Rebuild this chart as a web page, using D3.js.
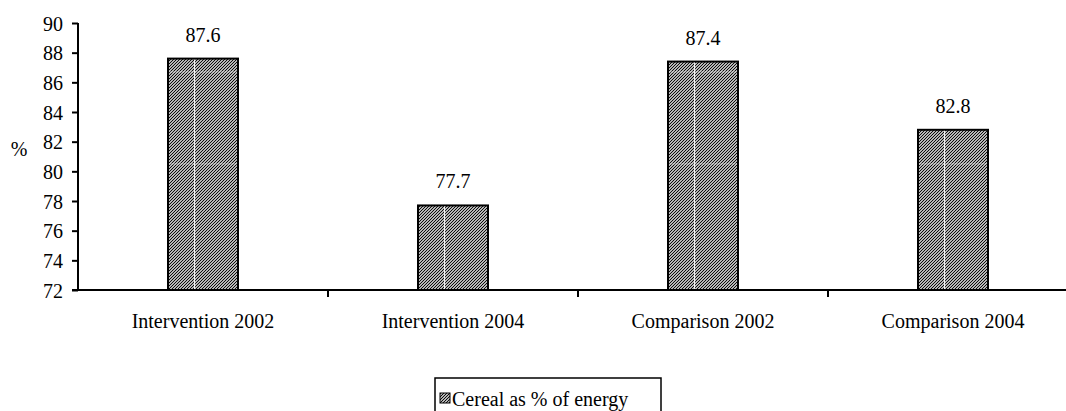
<!doctype html>
<html>
<head>
<meta charset="utf-8">
<title>Cereal as % of energy</title>
<script src="https://d3js.org/d3.v7.min.js"></script>
<style>
  body { margin: 0; background: #fff; }
</style>
</head>
<body>
<svg id="chart" width="1066" height="411"></svg>
<script>
// chart data
const categories = ["Intervention 2002", "Intervention 2004", "Comparison 2002", "Comparison 2004"];
const values = [87.6, 77.7, 87.4, 82.8];
const yTicks = [72, 74, 76, 78, 80, 82, 84, 86, 88, 90];
const seriesName = "Cereal as % of energy";

const FONT = "'Liberation Serif', 'Times New Roman', Times, serif";

const svg = d3.select("#chart");
const margin = {top: 23, left: 78, bottom: 121},
      width = 1000,
      height = 411 - margin.top - margin.bottom;

// hatch pattern for the bars
const defs = svg.append("defs");
defs.append("pattern")
    .attr("id", "hatch")
    .attr("patternUnits", "userSpaceOnUse")
    .attr("width", 3).attr("height", 3)
  .append("path")
    .attr("d", "M-1,1 l2,-2 M0,3 l3,-3 M2,4 l2,-2")
    .attr("stroke", "#000")
    .attr("stroke-width", 1.1);

const g = svg.append("g")
    .attr("transform", `translate(${margin.left},${margin.top})`);

const x = d3.scaleBand()
    .domain(categories)
    .range([0, width])
    .paddingInner(0.72)
    .paddingOuter(0.36);

const y = d3.scaleLinear()
    .domain([72, 90])
    .range([height, 0]);

// bars
const bars = g.selectAll(".bar")
  .data(values)
  .join("g")
    .attr("class", "bar");

bars.append("rect")
    .attr("x", (d, i) => x(categories[i]))
    .attr("y", d => y(d))
    .attr("width", x.bandwidth())
    .attr("height", d => height - y(d))
    .attr("fill", "url(#hatch)")
    .attr("stroke", "#000")
    .attr("stroke-width", 2);

// thin white seams in the hatch, like the original
bars.append("line")
    .attr("x1", (d, i) => x(categories[i]) + x.bandwidth() * 0.38)
    .attr("x2", (d, i) => x(categories[i]) + x.bandwidth() * 0.38)
    .attr("y1", d => y(d) + 1)
    .attr("y2", height - 1)
    .attr("stroke", "#fff")
    .attr("stroke-width", 1);

const seams = [86.7, 80.5];
bars.each(function(d, i) {
  d3.select(this).selectAll(".seam")
    .data(seams.filter(s => s < d - 0.2))
    .join("line")
      .attr("class", "seam")
      .attr("x1", x(categories[i]) + 1)
      .attr("x2", x(categories[i]) + x.bandwidth() - 1)
      .attr("y1", s => y(s))
      .attr("y2", s => y(s))
      .attr("stroke", "#fff")
      .attr("stroke-opacity", 0.45)
      .attr("stroke-width", 1);
});

// value labels
bars.append("text")
    .attr("x", (d, i) => x(categories[i]) + x.bandwidth() / 2)
    .attr("y", d => y(d) - 17)
    .attr("text-anchor", "middle")
    .text(d => d.toFixed(1));

// y axis
const yAxis = g.append("g")
    .call(d3.axisLeft(y).tickValues(yTicks).tickSize(6).tickPadding(9));
yAxis.attr("font-family", null).attr("font-size", null);
yAxis.selectAll("text").attr("dy", "0.35em");
yAxis.select(".domain").attr("d", `M0,${height}V0`).attr("stroke-width", 2);
yAxis.selectAll(".tick line").attr("stroke-width", 2);

// x axis: line with ticks at band boundaries
g.append("line")
    .attr("x1", -6).attr("x2", width)
    .attr("y1", height).attr("y2", height)
    .attr("stroke", "#000").attr("stroke-width", 2);

const step = x.step();
g.selectAll(".xtick")
  .data(categories.slice(1))
  .join("line")
    .attr("class", "xtick")
    .attr("x1", d => x(d) - x.paddingInner() * step / 2)
    .attr("x2", d => x(d) - x.paddingInner() * step / 2)
    .attr("y1", height).attr("y2", height + 7)
    .attr("stroke", "#000").attr("stroke-width", 2);

g.selectAll(".xlabel")
  .data(categories)
  .join("text")
    .attr("class", "xlabel")
    .attr("x", d => x(d) + x.bandwidth() / 2)
    .attr("y", height + 38)
    .attr("text-anchor", "middle")
    .text(d => d);

// y axis title
svg.append("text")
    .attr("x", 19)
    .attr("y", 156)
    .attr("text-anchor", "middle")
    .text("%");

// legend
const legend = svg.append("g").attr("transform", "translate(435,378)");
legend.append("rect")
    .attr("width", 226).attr("height", 40)
    .attr("fill", "#fff")
    .attr("stroke", "#000").attr("stroke-width", 1.5);
legend.append("rect")
    .attr("x", 5).attr("y", 15)
    .attr("width", 10).attr("height", 10)
    .attr("fill", "url(#hatch)")
    .attr("stroke", "#000").attr("stroke-width", 1);
legend.append("text")
    .attr("x", 17).attr("y", 28)
    .text(seriesName);

// one font for every text
svg.selectAll("text")
    .style("font-family", FONT)
    .style("font-size", "20px")
    .attr("fill", "#000");
</script>
</body>
</html>
